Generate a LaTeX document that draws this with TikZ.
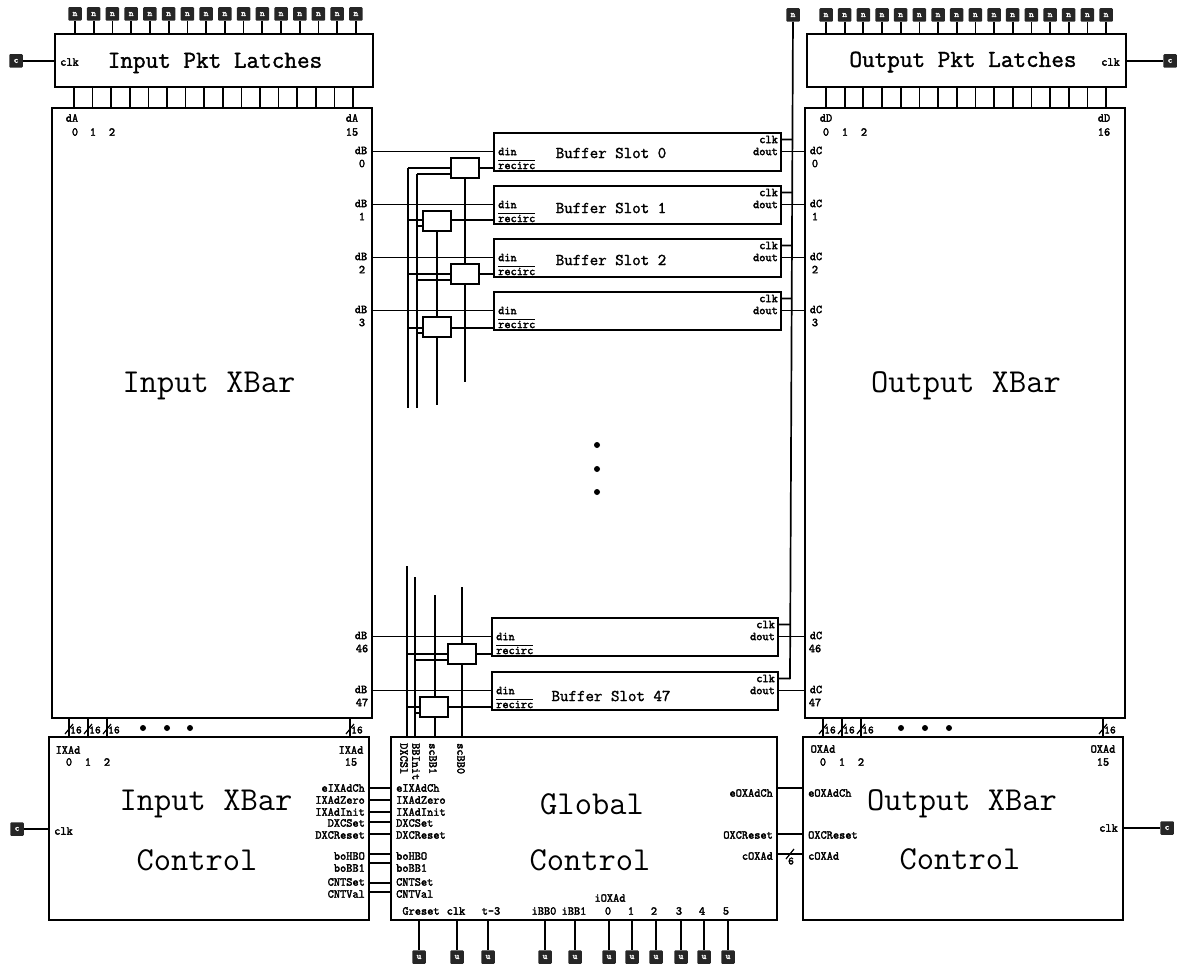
\documentclass[tikz,border=0pt]{standalone}
\usepackage{fontspec}
\usepackage{tikz}
\usetikzlibrary{positioning,calc}
\newfontfamily\lblfont{Latin Modern Mono}[FakeBold=2.5]
\newfontfamily\subfont{Latin Modern Mono}[FakeBold=1.5]
\tikzset{
  blockbox/.style={draw, line width=2pt, inner sep=0pt},
  muxbox/.style={draw, line width=2pt, fill=white, inner sep=0pt, minimum width=28pt, minimum height=20pt},
  padbox/.style={fill=black!85, rounded corners=1pt, inner sep=0pt, minimum size=13.5pt, text=white, font=\lblfont\fontsize{9}{9}\selectfont},
  wire/.style={line width=1.7pt},
  lbl/.style={font=\lblfont\fontsize{12}{12}\selectfont, inner sep=0pt},
  buslbl/.style={font=\lblfont\fontsize{11}{11}\selectfont, inner sep=0pt},
  title/.style={font=\ttfamily\fontsize{33.5}{33.5}\selectfont, inner sep=0pt},
  subtitle/.style={font=\subfont\fontsize{24.5}{25}\selectfont, inner sep=0pt},
  slotlbl/.style={font=\subfont\fontsize{16.5}{17}\selectfont, inner sep=0pt},
  dotmark/.style={circle, fill=black, inner sep=0pt, minimum size=6pt}
}
\begin{document}
\begin{tikzpicture}[x=1pt,y=-1pt]
\useasboundingbox (0,0) rectangle (1179,966);
% Latches and crossbars
\node[blockbox, minimum width=318pt, minimum height=53pt] (inlatch) at (214,61) {};
\node[blockbox, minimum width=319pt, minimum height=53pt] (outlatch) at (966,61) {};
\node[blockbox, minimum width=320pt, minimum height=610pt] (inxbar) at (212,413) {};
\node[blockbox, minimum width=320pt, minimum height=610pt] (outxbar) at (965,413) {};
\node[subtitle] (inlatchtxt) at (215,63) {Input Pkt Latches};
\node[subtitle] (outlatchtxt) at (963,62) {Output Pkt Latches};
\node[title] (inxbartxt) at (209,386) {Input XBar};
\node[title] (outxbartxt) at (966,386) {Output XBar};
% Control blocks
\node[blockbox, minimum width=320pt, minimum height=183pt] (inctl) at (209,828.5) {};
\node[blockbox, minimum width=386pt, minimum height=183pt] (glob) at (584,828.5) {};
\node[blockbox, minimum width=320pt, minimum height=183pt] (outctl) at (963,828.5) {};
\node[title] (inctltxt) at (206,804) {Input XBar};
\node[title] (inctltxtb) at (197,860) {Control};
\node[title] (globtxt) at (592,804) {Global};
\node[title] (globtxtb) at (590,860) {Control};
\node[title] (outctltxt) at (962,804) {Output XBar};
\node[title] (outctltxtb) at (960,859) {Control};
% Latch pins, sixteen of them on each side
\foreach \i in {0,...,15} {
  \pgfmathsetmacro{\xa}{75+18.73*\i}
  \pgfmathsetmacro{\xb}{74+18.6*\i}
  \pgfmathsetmacro{\xc}{826+18.67*\i}
  \node[padbox] (ipad\i) at (\xa,14) {n};
  \draw[wire] (ipad\i) -- (ipad\i |- inlatch.north);
  \coordinate (il\i) at (\xb,88);
  \draw[wire] (il\i) -- (il\i |- inxbar.north);
  \node[padbox] (opad\i) at (\xc,15) {n};
  \draw[wire] (opad\i) -- (opad\i |- outlatch.north);
  \coordinate (ol\i) at (\xc,88);
  \draw[wire] (ol\i) -- (ol\i |- outxbar.north);
}
% Clock pads
\node[padbox] (iclk) at (16,61) {c};
\node[padbox] (oclk) at (1170,61) {c};
\node[padbox] (ictlclk) at (17,829) {c};
\node[padbox] (octlclk) at (1167,828) {c};
\draw[wire] (iclk) -- (iclk -| inlatch.west);
\draw[wire] (oclk) -- (oclk -| outlatch.east);
\draw[wire] (ictlclk) -- (ictlclk -| inctl.west);
\draw[wire] (octlclk) -- (octlclk -| outctl.east);
\node[lbl, anchor=west] (iclktxt) at (60,62) {clk};
\node[lbl, anchor=east] (oclktxt) at (1120,62) {clk};
\node[lbl, anchor=west] (ictlclktxt) at (54,831) {clk};
\node[lbl, anchor=east] (octlclktxt) at (1118,828) {clk};
% Port labels on the crossbars
\node[lbl] (da) at (72,118) {dA};
\node[lbl] (daend) at (352,118) {dA};
\node[lbl] (dd) at (826,118) {dD};
\node[lbl] (ddend) at (1104,118) {dD};
\node[lbl] (daendn) at (352,132) {15};
\node[lbl] (ddendn) at (1104,132) {16};
\foreach \n/\xi/\xo in {0/75/826,1/93/845,2/112/864} {
  \node[lbl] (dan\n) at (\xi,132) {\n};
  \node[lbl] (ddn\n) at (\xo,132) {\n};
}
% Buffer slots
\foreach \s/\ytop/\lx/\rx/\ty/\name in {0/133/494/781/153/Buffer Slot 0,1/186/494/781/208/Buffer Slot 1,2/239/494/781/260/Buffer Slot 2,3/292/494/781/311/,46/618/492/778/637/,47/672/492/778/696/Buffer Slot 47} {
  \pgfmathsetmacro{\ymid}{\ytop+19}
  \pgfmathsetmacro{\xmid}{(\lx+\rx)/2}
  \pgfmathsetmacro{\slotwd}{\rx-\lx}
  \node[blockbox, minimum width=\slotwd pt, minimum height=38pt] (slot\s) at (\xmid,\ymid) {};
  \node[slotlbl] (slottxt\s) at (611,\ty) {\name};
  \coordinate (din\s) at ($(slot\s.north west)+(0,19.5)$);
  \coordinate (dclk\s) at ($(slot\s.north east)+(0,7.5)$);
  \coordinate (dout\s) at ($(slot\s.north east)+(0,19.5)$);
  \node[lbl, anchor=west] (dintxt\s) at ($(din\s)+(5,0)$) {din};
  \node[lbl, anchor=west] (rectxt\s) at ($(din\s)+(5,13)$) {$\overline{\mbox{recirc}}$};
  \node[lbl, anchor=east] (clktxt\s) at ($(dclk\s)+(-4,0)$) {clk};
  \node[lbl, anchor=east] (douttxt\s) at ($(dout\s)+(-4,0)$) {dout};
  \draw[wire] (din\s) -- (din\s -| inxbar.east);
  \draw[wire] (dout\s) -- (dout\s -| outxbar.west);
  \node[lbl] (dbtxt\s) at ($(din\s -| inxbar.east)+(-12,-1)$) {dB};
  \node[lbl] (dbn\s) at ($(din\s -| inxbar.east)+(-11,12)$) {\s};
  \node[lbl] (dctxt\s) at ($(dout\s -| outxbar.west)+(12,-1)$) {dC};
  \node[lbl] (dcn\s) at ($(dout\s -| outxbar.west)+(11,12)$) {\s};
}
% Muxes, even slots to the right, odd to the left
\foreach \s/\mx/\my/\ya in {0/465/168/168,1/437/221/220,2/465/274/274,3/437/327/328,46/462/654/654,47/434/707/707} {
  \node[muxbox] (mux\s) at (\mx,\my) {};
  \coordinate (mr\s) at (mux\s.east |- 0,\ya);
  \draw[wire] (mr\s) -- (mr\s -| slot\s.west);
}
% Lines down to the control block
\coordinate (suba) at (408,168);
\coordinate (subb) at (417,174);
\coordinate (subc) at (408,408);
\coordinate (subd) at (417,408);
\coordinate (sube) at (407,566);
\coordinate (subf) at (415,577);
\coordinate (subg) at (435,595);
\coordinate (subh) at (462,587);
\coordinate (subi) at (465,382);
\coordinate (subj) at (437,405);
\draw[wire] (suba) -- (subc);
\draw[wire] (subb) -- (subd);
\draw[wire] (sube) -- (sube |- glob.north);
\draw[wire] (subf) -- (subf |- glob.north);
\draw[wire] (subg) -- (mux47.north -| subg);
\draw[wire] (mux47.south -| subg) -- (subg |- glob.north);
\draw[wire] (subh) -- (mux46.north -| subh);
\draw[wire] (mux46.south -| subh) -- (subh |- glob.north);
\draw[wire] (mux0.south) -- (mux2.north);
\draw[wire] (mux2.south) -- (subi);
\draw[wire] (mux1.south) -- (mux3.north);
\draw[wire] (mux3.south) -- (subj);
\foreach \s/\ya/\yb in {0/168/174,1/220/226,2/274/280,3/328/333} {
  \draw[wire] (suba |- 0,\ya) -- (mux\s.west |- 0,\ya);
  \draw[wire] (subb |- 0,\yb) -- (mux\s.west |- 0,\yb);
}
\foreach \s/\ya/\yb in {46/654/660,47/707/713} {
  \draw[wire] (sube |- 0,\ya) -- (mux\s.west |- 0,\ya);
  \draw[wire] (subf |- 0,\yb) -- (mux\s.west |- 0,\yb);
}
% Clock bus on the right
\node[padbox] (buspad) at (793,15) {n};
\coordinate (busend) at (790,679);
\draw[wire] (buspad) -- (busend);
\foreach \s in {0,1,2,3,46,47} {
  \draw[wire] (dclk\s) -- ($(buspad)!(dclk\s)!(busend)$);
}
% Rotated labels
\node[lbl, rotate=-90, anchor=west] (dxcsl) at (404,743) {DXCSl};
\node[lbl, rotate=-90, anchor=west] (bbinit) at (416,743) {BBInit};
\node[lbl, rotate=-90, anchor=west] (scbb) at (433,743) {scBB1};
\node[lbl, rotate=-90, anchor=west] (scbbz) at (461,743) {scBB0};
\node[dotmark] (dota) at (597,445) {};
\node[dotmark] (dotb) at (597,469) {};
\node[dotmark] (dotc) at (597,492) {};
% Sixteen bit busses between crossbars and controls
\foreach \x in {69,88,107,350} {
  \coordinate (ib\x) at (\x,718);
  \draw[wire] (ib\x) -- (ib\x |- inctl.north);
  \draw[line width=1.2pt] ($(ib\x)+(-4,16)$) -- ($(ib\x)+(4,6)$);
  \node[buslbl] (ibt\x) at ($(ib\x)+(7,12)$) {16};
}
\foreach \x in {823,842,861,1103} {
  \coordinate (ob\x) at (\x,718);
  \draw[wire] (ob\x) -- (ob\x |- outctl.north);
  \draw[line width=1.2pt] ($(ob\x)+(-4,16)$) -- ($(ob\x)+(4,6)$);
  \node[buslbl] (obt\x) at ($(ob\x)+(7,12)$) {16};
}
\foreach \x in {143,167,190,901,925,949} {
  \node[dotmark] (bd\x) at (\x,728) {};
}
% Control port labels
\node[lbl] (ixa) at (68,750) {IXAd};
\node[lbl] (ixb) at (351,750) {IXAd};
\node[lbl] (ixbn) at (351,762) {15};
\node[lbl] (oxa) at (823,749) {OXAd};
\node[lbl] (oxb) at (1103,749) {OXAd};
\node[lbl] (oxbn) at (1103,762) {15};
\foreach \n/\xi/\xo in {0/69/823,1/88/842,2/107/861} {
  \node[lbl] (ixn\n) at (\xi,762) {\n};
  \node[lbl] (oxn\n) at (\xo,762) {\n};
}
% Wires between input control and global control
\foreach \t/\yl/\yt in {eIXAdCh/788/788,IXAdZero/800/800,IXAdInit/812/812,DXCSet/822/823,DXCReset/834/835,boHBO/854/856,boBB1/863/868,CNTSet/883/882,CNTVal/892/894} {
  \coordinate (ln\t) at (369,\yl);
  \draw[wire] (ln\t) -- (ln\t -| glob.west);
  \node[lbl, anchor=east] (lt\t) at (365,\yt) {\t};
  \node[lbl, anchor=west] (rt\t) at (396,\yt) {\t};
}
% Wires between global control and output control
\foreach \t/\yl/\yt in {eOXAdCh/788/793,OXCReset/834/835,cOXAd/854/856} {
  \coordinate (rn\t) at (777,\yl);
  \draw[wire] (rn\t) -- (rn\t -| outctl.west);
  \node[lbl, anchor=east] (ot\t) at (773,\yt) {\t};
  \node[lbl, anchor=west] (ou\t) at (808,\yt) {\t};
}
\draw[line width=1.2pt] ($(rncOXAd)+(9,5)$) -- ($(rncOXAd)+(17,-5)$);
\node[buslbl] (cwd) at (791,861) {6};
% Pads below global control
\foreach \t/\px/\tx in {Greset/419/421,clk/457/456,t-3/488/491,iBB0/545/544,iBB1/575/574,0/609/608,1/632/631,2/656/654,3/681/679,4/704/702,5/728/726} {
  \node[padbox] (gp\t) at (\px,957) {u};
  \draw[wire] (gp\t) -- (gp\t |- glob.south);
  \node[lbl] (gt\t) at (\tx,911) {\t};
}
\node[lbl] (ioxad) at (610,898) {iOXAd};
\end{tikzpicture}
\end{document}
